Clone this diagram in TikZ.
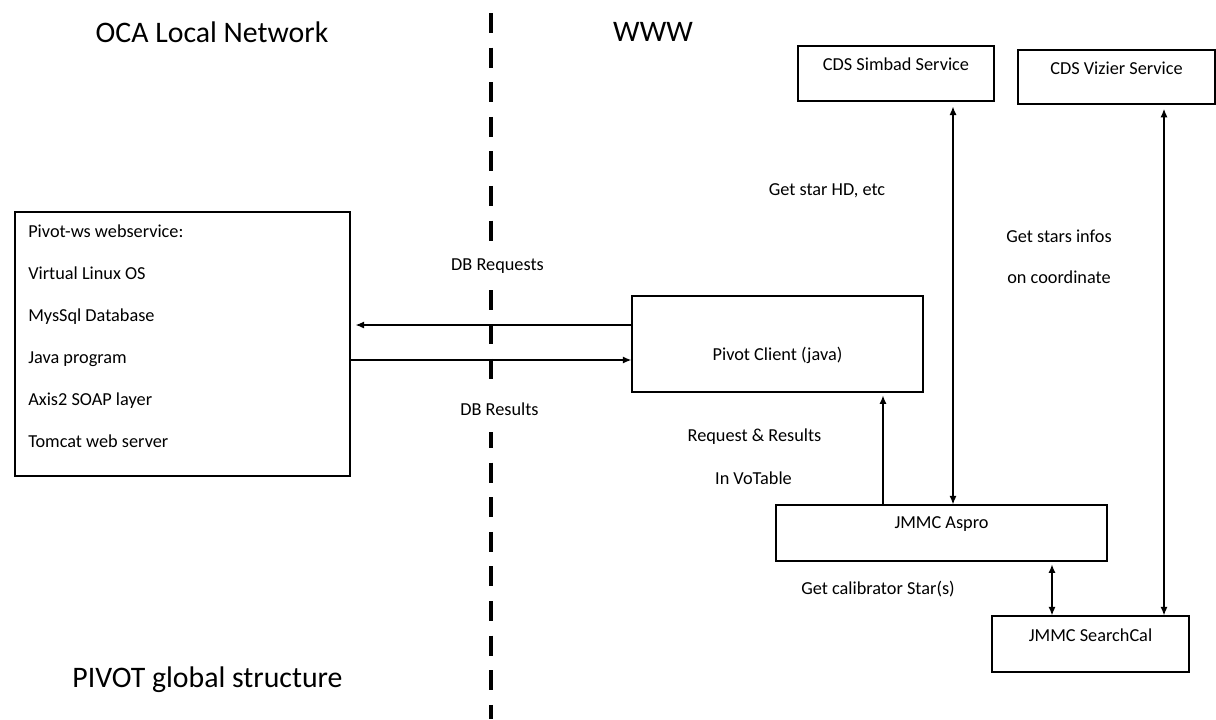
\documentclass[tikz,border=0pt]{standalone}
\usepackage{fontspec}
\setmainfont{Carlito}
\usetikzlibrary{arrows.meta}
\tikzset{
    box/.style = {rectangle, draw=black, line width=0.9pt, inner sep=0pt},
    boxtext/.style = {font=\fontsize{13}{15}\selectfont, inner sep=0pt},
    note/.style = {font=\fontsize{13}{15}\selectfont, inner sep=0pt},
    dbnote/.style = {note, fill=white, inner xsep=3pt, inner ysep=12pt},
    heading/.style = {font=\fontsize{21.2}{25}\selectfont, inner sep=0pt},
    edgen/.style = {-{Latex[length=6pt,width=5pt]}, line width=0.9pt},
    edgeb/.style = {{Latex[length=6pt,width=5pt]}-{Latex[length=6pt,width=5pt]}, line width=0.9pt},
    divider/.style = {line width=3.3pt, dash pattern=on 14.2pt off 10.4pt},
}

\begin{document}
\begin{tikzpicture}[x=0.025cm, y=-0.025cm]
\useasboundingbox[fill=white] (0,0) rectangle (1216,719);
%
\node[heading] at (212,32) (oca) {OCA Local Network};
\node[heading] at (653,32) (www) {WWW};
\node[heading] at (207.5,680) (title) {PIVOT global structure};
\draw[divider] (491,13) -- (491,719);
%
\node[box, minimum width=8.375cm, minimum height=6.6cm] at (182.5,344) (ws) {};
\node[boxtext, anchor=west, align=left, font=\fontsize{13}{29.8}\selectfont] at (28,336) (wstext)
    {Pivot-ws webservice:\\Virtual Linux OS\\MysSql Database\\Java program\\Axis2 SOAP layer\\Tomcat web server};
\node[box, minimum width=7.275cm, minimum height=2.4cm, label={[boxtext,yshift=-8pt]center:Pivot Client (java)}] at (777.5,344) (client) {};
\node[box, minimum width=8.275cm, minimum height=1.4cm, label={[boxtext,yshift=6.4pt]center:JMMC Aspro}] at (941.5,533) (aspro) {};
\node[box, minimum width=4.925cm, minimum height=1.4cm, label={[boxtext,yshift=6.4pt]center:JMMC SearchCal}] at (1090.5,644) (searchcal) {};
\node[box, minimum width=4.9cm, minimum height=1.375cm, label={[boxtext,yshift=6.4pt]center:CDS Simbad Service}] at (896,73.5) (simbad) {};
\node[box, minimum width=4.925cm, minimum height=1.35cm, label={[boxtext,yshift=6.4pt]center:CDS Vizier Service}] at (1116.5,77) (vizier) {};
%
\node[dbnote] at (497.5,266) (dbreq) {DB Requests};
\node[dbnote] at (499.5,409) (dbres) {DB Results};
\node[note] at (827,191) (getstar) {Get star HD, etc};
\node[note] at (1059,236) (infos) {Get stars infos};
\node[note] at (1059,277) (coord) {on coordinate};
\node[note] at (754.5,437) (reqres) {Request \& Results};
\node[note] at (753.5,478) (votable) {In VoTable};
\node[note] at (878,589) (getcal) {Get calibrator Star(s)};
%
\coordinate (yreq) at (0,325);
\coordinate (yres) at (0,360);
\coordinate (xcli) at (883,0);
\coordinate (xsim) at (953,0);
\coordinate (xviz) at (1164,0);
\coordinate (xcal) at (1052,0);
%
\draw[edgen, shorten >=3.5pt] (client.west |- yreq) -- (ws.east |- yreq);
\draw[edgen] (ws.east |- yres) -- (client.west |- yres);
\draw[edgen, shorten >=2pt] (aspro.north -| xcli) -- (client.south -| xcli);
\draw[edgeb, shorten <=3.5pt] (simbad.south -| xsim) -- (aspro.north -| xsim);
\draw[edgeb, shorten <=3pt] (vizier.south -| xviz) -- (searchcal.north -| xviz);
\draw[edgeb, shorten <=2pt] (aspro.south -| xcal) -- (searchcal.north -| xcal);

\end{tikzpicture}
\end{document}
